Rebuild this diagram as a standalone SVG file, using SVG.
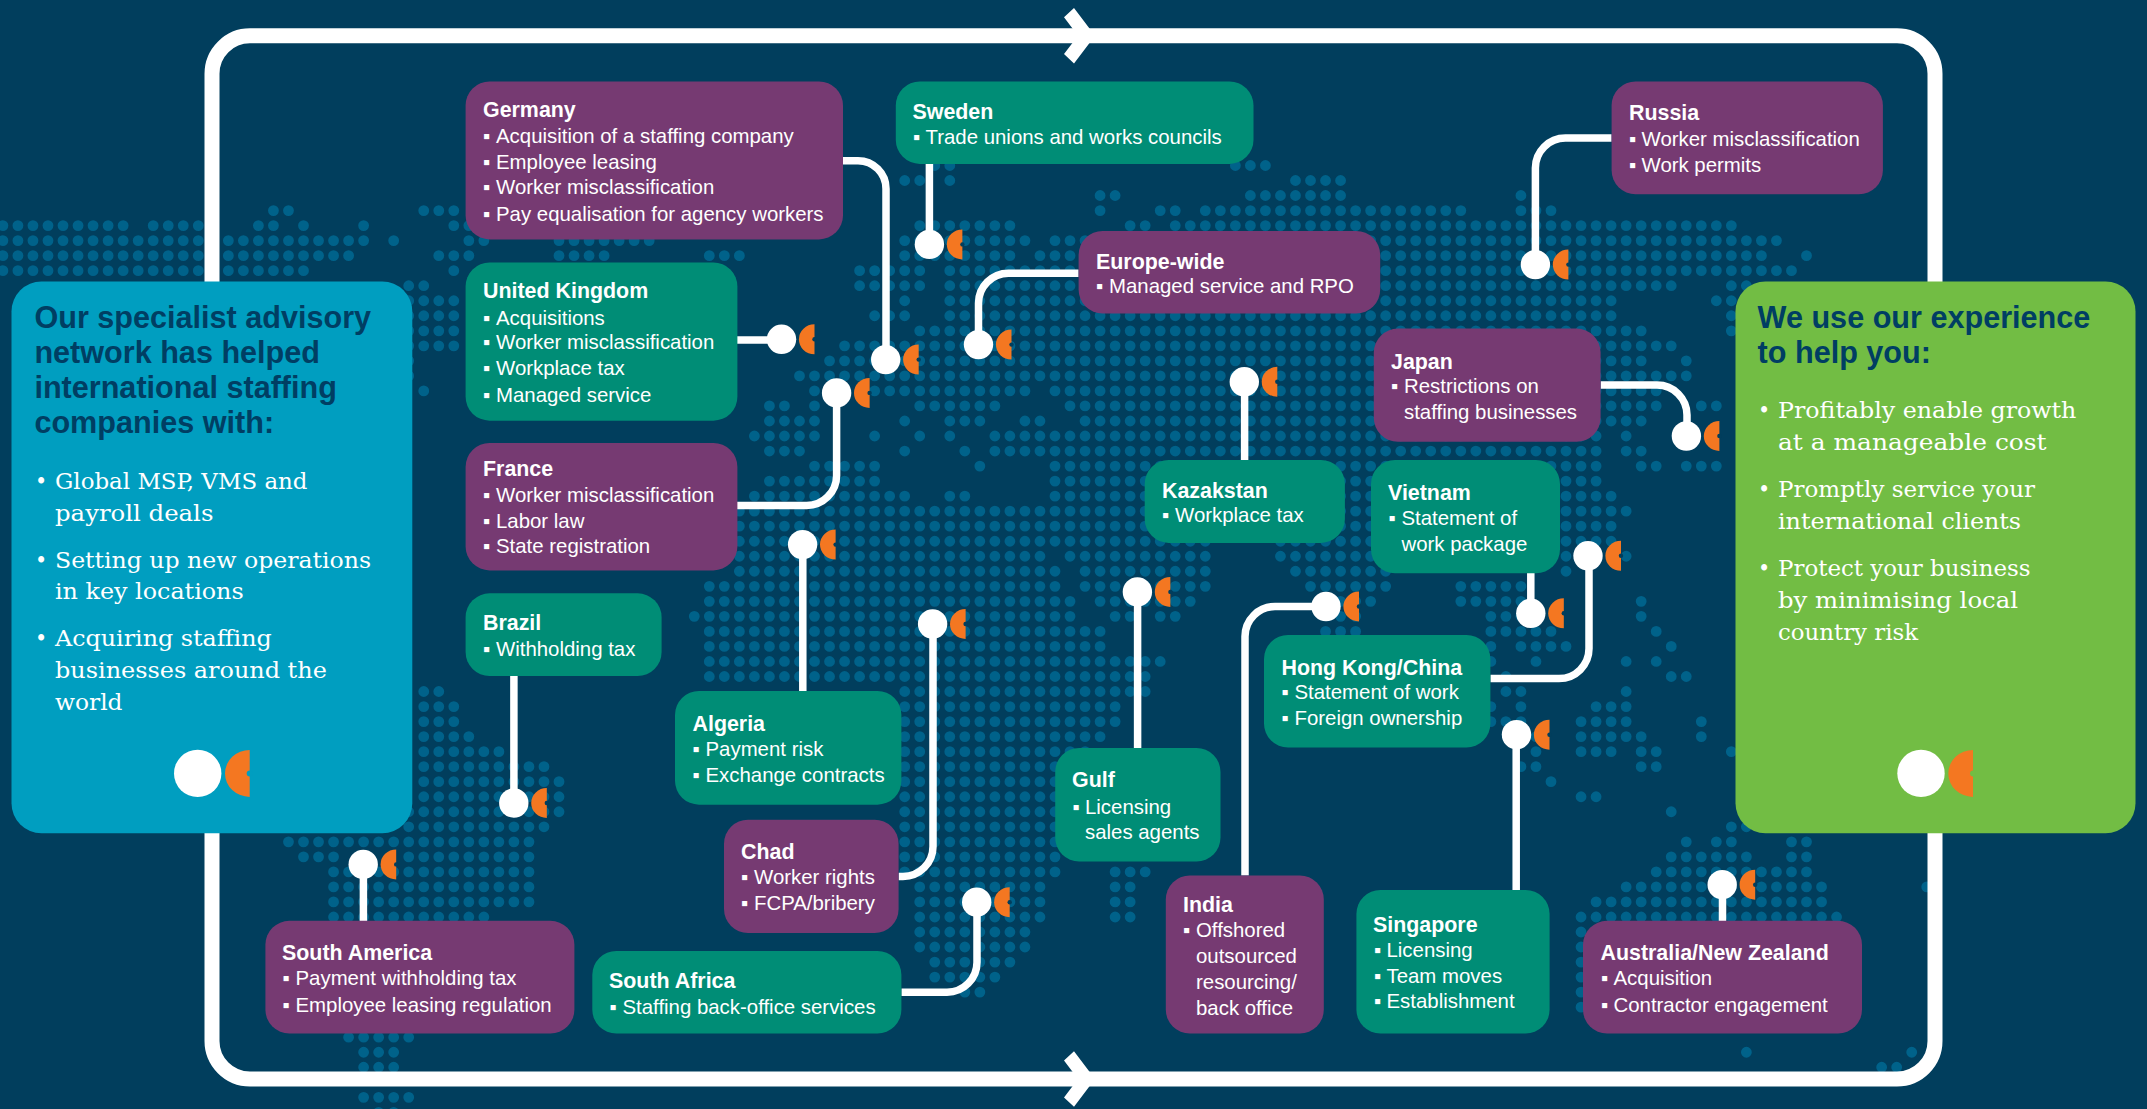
<svg xmlns="http://www.w3.org/2000/svg" width="2147" height="1109" viewBox="0 0 2147 1109">
<style>
.p{fill:#763a72}.g{fill:#008d76}
.t{font:bold 21.4px "Liberation Sans",Arial,sans-serif;fill:#fff;transform:translateY(.8px)}
.b{font:20.4px "Liberation Sans",Arial,sans-serif;fill:#fff;transform:translateY(.4px)}
.h{font:bold 30.6px "Liberation Sans",Arial,sans-serif;fill:#003e63}
.s{font:23px "DejaVu Serif Condensed","DejaVu Serif",serif;fill:#fff}
.c{fill:none;stroke:#fff;stroke-width:7.5}
</style>
<defs>
<g id="pin"><circle r="14.7" fill="#fff"/><path d="M33-15A15.6 15 0 0 0 33 15Z" fill="#f47721"/><circle cx="33" r="2.2" fill="#013e5d"/></g>
<path id="bigo" d="M52-23.5A24.7 23.5 0 0 0 52 23.5Z" fill="#f47721"/>
</defs>
<rect width="2147" height="1109" fill="#013e5d"/>
<g id="map" transform="translate(2.9 180.5) scale(15.03)" fill="none" stroke="#00628a" stroke-width=".72" stroke-linecap="round" stroke-dasharray="0 1">
<path d="M62 -1H63.01M82 -1H84.01M60 0H61.01M63 0h.01M86 0H89.01M73 1H74.01M83 1H89.01M101 1h.01M18 2H19.01M28 2H30.01M73 2h.01M77 2H78.01M80 2H97.01M101 2H103.01M0 3H8.01M10 3H14.01M17 3H18.01M20 3h.01M24 3h.01M30 3H31.01M61 3H67.01M75 3H76.01M78 3H115.01M0 4H24.01M26 4h.01M31 4H32.01M37 4H43.01M60 4H68.01M70 4H118.01M0 5H23.01M29 5H31.01M37 5H40.01M47 5H49.01M60 5H67.01M69 5H117.01M120 5h.01M0 6H20.01M30 6h.01M57 6H61.01M63 6H119.01M27 7H28.01M57 7H61.01M63 7H111.01M115 7H116.01M27 8H30.01M60 8h.01M63 8H107.01M114 8H115.01M27 9H30.01M58 9H60.01M63 9H107.01M115 9h.01M27 10H30.01M61 10H109.01M115 10h.01M27 11H30.01M56 11H111.01M27 12h.01M55 12H109.01M112 12h.01M27 13h.01M53 13H112.01M28 14h.01M54 14h.01M58 14H68.01M70 14H110.01M51 15H52.01M54 15h.01M61 15H66.01M71 15H110.01M113 15H114.01M51 16H54.01M60 16h.01M63 16H65.01M68 16H69.01M72 16H109.01M50 17H54.01M58 17h.01M61 17h.01M63 17h.01M66 17H106.01M108 17h.01M51 18H53.01M60 18h.01M64 18h.01M66 18H106.01M108 18H109.01M54 19H58.01M65 19h.01M70 19H106.01M109 19H110.01M112 19H114.01M51 20H58.01M70 20H106.01M50 21H60.01M63 21H64.01M70 21H107.01M49 22H108.01M49 23H107.01M49 24H80.01M85 24H107.01M49 25H69.01M71 25H80.01M85 25H91.01M104 25h.01M108 25h.01M49 26H70.01M72 26H80.01M86 26H92.01M104 26h.01M47 27H70.01M72 27H80.01M87 27H92.01M97 27H101.01M47 28H71.01M73 28H79.01M89 28H91.01M97 28H101.01M109 28h.01M46 29H71.01M74 29H75.01M77 29H78.01M89 29H90.01M99 29H101.01M109 29h.01M47 30H73.01M88 30H90.01M99 30H103.01M110 30h.01M47 31H73.01M99 31h.01M101 31H104.01M111 31h.01M47 32H77.01M99 32h.01M102 32h.01M108 32h.01M110 32h.01M47 33H76.01M100 33h.01M111 33H112.01M28 34H29.01M60 34H76.01M100 34H101.01M108 34h.01M28 35H30.01M60 35H74.01M99 35h.01M101 35h.01M106 35H108.01M28 36H30.01M60 36H74.01M99 36H101.01M105 36H108.01M113 36h.01M28 37H31.01M60 37H73.01M102 37h.01M105 37H109.01M113 37h.01M28 38H33.01M60 38H72.01M102 38h.01M105 38H107.01M109 38H110.01M115 38h.01M28 39H36.01M60 39H70.01M101 39H102.01M109 39H110.01M28 40H37.01M60 40H70.01M103 40h.01M28 41H37.01M60 41H70.01M105 41H106.01M27 42H37.01M60 42H70.01M111 42h.01M27 43H36.01M60 43H70.01M115 43H116.01M19 44H35.01M60 44H70.01M112 44h.01M114 44H115.01M119 44H120.01M20 45H22.01M27 45H35.01M60 45H70.01M111 45H116.01M119 45H120.01M22 46H35.01M60 46H70.01M74 46H76.01M110 46H120.01M22 47H35.01M61 47H69.01M74 47H75.01M108 47H121.01M128 47h.01M22 48H35.01M61 48H69.01M74 48H75.01M106 48H121.01M22 49H32.01M61 49H69.01M74 49H75.01M105 49H122.01M61 50H68.01M105 50h.01M61 51H68.01M105 51h.01M62 52H67.01M105 52h.01M62 53H66.01M105 53h.01M64 54H65.01M105 54h.01M105 55h.01M23 57H27.01M24 58H26.01M116 58h.01M127 58h.01M24 59H26.01M125 59H126.01M24 61H27.01M25 62H26.01"/>
</g>
<g id="frame">
<rect x="212" y="35.8" width="1723" height="1043.2" rx="38" fill="none" stroke="#fff" stroke-width="15"/>
<path d="M1074 8L1095 35.7L1074 63.4L1064 54.1L1078 35.7L1064 17.3Z" fill="#fff"/>
<path d="M1074 1051.3L1095 1079L1074 1106.7L1064 1097.4L1078 1079L1064 1060.6Z" fill="#fff"/>
</g>
<g id="connectors">
<path class="c" d="M843 160.7H858a28 28 0 0 1 28 28V359"/>
<path class="c" d="M929.4 164V244"/>
<path class="c" d="M737 340H781"/>
<path class="c" d="M737 505.4H806.6a30 30 0 0 0 30-30V393"/>
<path class="c" d="M1078.6 273.2H1008.5a30 30 0 0 0-30 30V344"/>
<path class="c" d="M1244.6 382V460"/>
<path class="c" d="M1611.6 138H1565.4a30 30 0 0 0-30 30V264"/>
<path class="c" d="M1600.6 385H1657a30 30 0 0 1 30 30V436"/>
<path class="c" d="M1530.8 573V613"/>
<path class="c" d="M1490.4 678.6H1559a30 30 0 0 0 30-30V556"/>
<path class="c" d="M802.8 545V691"/>
<path class="c" d="M898.6 876.5H903a30 30 0 0 0 30-30V624"/>
<path class="c" d="M1137.6 592V748"/>
<path class="c" d="M1245 875.4V636.5a30 30 0 0 1 30-30H1326"/>
<path class="c" d="M1516.2 735V890"/>
<path class="c" d="M513.9 676V803"/>
<path class="c" d="M363.4 864V921"/>
<path class="c" d="M901.4 992.2H947a30 30 0 0 0 30-30V902"/>
<path class="c" d="M1722.5 885V921"/>
<use href="#pin" x="885.7" y="359.6"/>
<use href="#pin" x="929.4" y="244.4"/>
<use href="#pin" x="781.5" y="339.3"/>
<use href="#pin" x="836.6" y="392.9"/>
<use href="#pin" x="978.5" y="344.6"/>
<use href="#pin" x="1244.3" y="381.8"/>
<use href="#pin" x="1535.4" y="264.6"/>
<use href="#pin" x="1686.4" y="436"/>
<use href="#pin" x="1530.8" y="613.3"/>
<use href="#pin" x="1588" y="555.8"/>
<use href="#pin" x="802.6" y="544.6"/>
<use href="#pin" x="932.6" y="624"/>
<use href="#pin" x="1137.4" y="591.9"/>
<use href="#pin" x="1326" y="606.5"/>
<use href="#pin" x="1516.5" y="734.7"/>
<use href="#pin" x="513.8" y="803"/>
<use href="#pin" x="363.2" y="864.4"/>
<use href="#pin" x="976.7" y="902.2"/>
<use href="#pin" x="1722.2" y="884.7"/>
</g>
<g id="germany"><rect class="p" x="465.6" y="81.4" width="377.4" height="158" rx="24"/><text class="t" x="483" y="116.4">Germany</text><text class="b" y="142.9"><tspan x="483">▪</tspan><tspan x="496">Acquisition of a staffing company</tspan></text><text class="b" y="168.6"><tspan x="483">▪</tspan><tspan x="496">Employee leasing</tspan></text><text class="b" y="194"><tspan x="483">▪</tspan><tspan x="496">Worker misclassification</tspan></text><text class="b" y="220.4"><tspan x="483">▪</tspan><tspan x="496">Pay equalisation for agency workers</tspan></text></g>
<g id="uk"><rect class="g" x="465.6" y="262.5" width="271.8" height="158.2" rx="24"/><text class="t" x="483" y="297.5">United Kingdom</text><text class="b" y="324.3"><tspan x="483">▪</tspan><tspan x="496">Acquisitions</tspan></text><text class="b" y="349"><tspan x="483">▪</tspan><tspan x="496">Worker misclassification</tspan></text><text class="b" y="375"><tspan x="483">▪</tspan><tspan x="496">Workplace tax</tspan></text><text class="b" y="401.4"><tspan x="483">▪</tspan><tspan x="496">Managed service</tspan></text></g>
<g id="france"><rect class="p" x="465.6" y="442.9" width="271.8" height="127.5" rx="24"/><text class="t" x="483" y="475.4">France</text><text class="b" y="502"><tspan x="483">▪</tspan><tspan x="496">Worker misclassification</tspan></text><text class="b" y="527.5"><tspan x="483">▪</tspan><tspan x="496">Labor law</tspan></text><text class="b" y="553"><tspan x="483">▪</tspan><tspan x="496">State registration</tspan></text></g>
<g id="brazil"><rect class="g" x="465.6" y="593.3" width="196" height="82.8" rx="24"/><text class="t" x="483" y="629.7">Brazil</text><text class="b" y="656"><tspan x="483">▪</tspan><tspan x="496">Withholding tax</tspan></text></g>
<g id="algeria"><rect class="g" x="675" y="691" width="226.4" height="113.7" rx="24"/><text class="t" x="692.5" y="730">Algeria</text><text class="b" y="756"><tspan x="692.5">▪</tspan><tspan x="705.5">Payment risk</tspan></text><text class="b" y="782"><tspan x="692.5">▪</tspan><tspan x="705.5">Exchange contracts</tspan></text></g>
<g id="chad"><rect class="p" x="724" y="819.7" width="174.6" height="113.3" rx="24"/><text class="t" x="741" y="858.6">Chad</text><text class="b" y="884"><tspan x="741">▪</tspan><tspan x="754">Worker rights</tspan></text><text class="b" y="910"><tspan x="741">▪</tspan><tspan x="754">FCPA/bribery</tspan></text></g>
<g id="south-africa"><rect class="g" x="592.3" y="951" width="309.1" height="82.6" rx="24"/><text class="t" x="609" y="987.6">South Africa</text><text class="b" y="1013.3"><tspan x="609.5">▪</tspan><tspan x="622.5">Staffing back-office services</tspan></text></g>
<g id="south-america"><rect class="p" x="265.4" y="920.8" width="309" height="112.8" rx="24"/><text class="t" x="282" y="959.7">South America</text><text class="b" y="985"><tspan x="282.5">▪</tspan><tspan x="295.5">Payment withholding tax</tspan></text><text class="b" y="1011.5"><tspan x="282.5">▪</tspan><tspan x="295.5">Employee leasing regulation</tspan></text></g>
<g id="sweden"><rect class="g" x="895.8" y="81.4" width="357.7" height="82.5" rx="24"/><text class="t" x="912.5" y="117.9">Sweden</text><text class="b" y="143.9"><tspan x="913">▪</tspan><tspan x="925.5">Trade unions and works councils</tspan></text></g>
<g id="europe-wide"><rect class="p" x="1078.6" y="231" width="301.6" height="82.6" rx="24"/><text class="t" x="1096" y="267.9">Europe-wide</text><text class="b" y="292.9"><tspan x="1096">▪</tspan><tspan x="1109">Managed service and RPO</tspan></text></g>
<g id="kazakstan"><rect class="g" x="1144.7" y="460" width="200.2" height="82.9" rx="24"/><text class="t" x="1162" y="496.8">Kazakstan</text><text class="b" y="522"><tspan x="1162">▪</tspan><tspan x="1175">Workplace tax</tspan></text></g>
<g id="japan"><rect class="p" x="1373.8" y="328.6" width="226.8" height="113.2" rx="24"/><text class="t" x="1391" y="367.9">Japan</text><text class="b" y="392.9"><tspan x="1391">▪</tspan><tspan x="1404">Restrictions on</tspan></text><text class="b" y="418.6" x="1404">staffing businesses</text></g>
<g id="vietnam"><rect class="g" x="1371" y="460" width="189" height="113.3" rx="24"/><text class="t" x="1388" y="499">Vietnam</text><text class="b" y="525"><tspan x="1388.5">▪</tspan><tspan x="1401.5">Statement of</tspan></text><text class="b" y="550.7" x="1401.5">work package</text></g>
<g id="russia"><rect class="p" x="1611.6" y="81.4" width="271.3" height="112.9" rx="24"/><text class="t" x="1629" y="119.6">Russia</text><text class="b" y="145.7"><tspan x="1629">▪</tspan><tspan x="1641.5">Worker misclassification</tspan></text><text class="b" y="171.4"><tspan x="1629">▪</tspan><tspan x="1641.5">Work permits</tspan></text></g>
<g id="hong-kong"><rect class="g" x="1264" y="635" width="226.4" height="112.6" rx="24"/><text class="t" x="1281.5" y="674">Hong Kong/China</text><text class="b" y="699"><tspan x="1281.5">▪</tspan><tspan x="1294.5">Statement of work</tspan></text><text class="b" y="725"><tspan x="1281.5">▪</tspan><tspan x="1294.5">Foreign ownership</tspan></text></g>
<g id="gulf"><rect class="g" x="1055.2" y="748" width="165.3" height="113.5" rx="24"/><text class="t" x="1072" y="786.5">Gulf</text><text class="b" y="813.3"><tspan x="1072.5">▪</tspan><tspan x="1085">Licensing</tspan></text><text class="b" y="838.3" x="1085">sales agents</text></g>
<g id="india"><rect class="p" x="1165.8" y="875.4" width="158" height="158.2" rx="24"/><text class="t" x="1183" y="910.8">India</text><text class="b" y="936.9"><tspan x="1183">▪</tspan><tspan x="1196">Offshored</tspan></text><text class="b" y="963" x="1196">outsourced</text><text class="b" y="988.3" x="1196">resourcing/</text><text class="b" y="1014.4" x="1196">back office</text></g>
<g id="singapore"><rect class="g" x="1356.4" y="890" width="193.2" height="143.6" rx="24"/><text class="t" x="1373" y="930.8">Singapore</text><text class="b" y="956.9"><tspan x="1374">▪</tspan><tspan x="1386.5">Licensing</tspan></text><text class="b" y="983"><tspan x="1374">▪</tspan><tspan x="1386.5">Team moves</tspan></text><text class="b" y="1008"><tspan x="1374">▪</tspan><tspan x="1386.5">Establishment</tspan></text></g>
<g id="australia"><rect class="p" x="1583" y="920.8" width="279" height="112.8" rx="24"/><text class="t" x="1600.5" y="959.7">Australia/New Zealand</text><text class="b" y="985"><tspan x="1601">▪</tspan><tspan x="1613.5">Acquisition</tspan></text><text class="b" y="1011.5"><tspan x="1601">▪</tspan><tspan x="1613.5">Contractor engagement</tspan></text></g>
<g id="panel-left"><rect x="11.5" y="281.4" width="400.8" height="551.9" rx="30" fill="#009ec0"/>
<text class="h" x="34.4" y="327.5">Our specialist advisory</text><text class="h" x="34.4" y="362.5">network has helped</text><text class="h" x="34.4" y="398">international staffing</text><text class="h" x="34.4" y="432.9">companies with:</text>
<text class="s"><tspan x="35" y="488.6">•</tspan><tspan x="55" y="488.6" textLength="252.5" lengthAdjust="spacingAndGlyphs">Global MSP, VMS and</tspan></text><text class="s" x="55" y="520.7" textLength="158.4" lengthAdjust="spacingAndGlyphs">payroll deals</text>
<text class="s"><tspan x="35" y="567.6">•</tspan><tspan x="55" y="567.6" textLength="316" lengthAdjust="spacingAndGlyphs">Setting up new operations</tspan></text><text class="s" x="55" y="599" textLength="188.7" lengthAdjust="spacingAndGlyphs">in key locations</text>
<text class="s"><tspan x="35" y="646">•</tspan><tspan x="55" y="646" textLength="216.7" lengthAdjust="spacingAndGlyphs">Acquiring staffing</tspan></text><text class="s" x="55" y="678.3" textLength="271.8" lengthAdjust="spacingAndGlyphs">businesses around the</text><text class="s" x="55" y="710.4" textLength="67.5" lengthAdjust="spacingAndGlyphs">world</text>
<circle cx="197.7" cy="773.4" r="23.7" fill="#fff"/><use href="#bigo" x="197.7" y="773.4"/><circle cx="249.7" cy="773.4" r="3" fill="#009ec0"/></g>
<g id="panel-right"><rect x="1735.5" y="281.4" width="400" height="551.9" rx="30" fill="#72bd44"/>
<text class="h" x="1757.6" y="327.5">We use our experience</text><text class="h" x="1757.6" y="362.5">to help you:</text>
<text class="s"><tspan x="1758" y="417.9">•</tspan><tspan x="1778" y="417.9" textLength="298.4" lengthAdjust="spacingAndGlyphs">Profitably enable growth</tspan></text><text class="s" x="1778" y="450" textLength="268.6" lengthAdjust="spacingAndGlyphs">at a manageable cost</text>
<text class="s"><tspan x="1758" y="497">•</tspan><tspan x="1778" y="497" textLength="257" lengthAdjust="spacingAndGlyphs">Promptly service your</tspan></text><text class="s" x="1778" y="528.6" textLength="243" lengthAdjust="spacingAndGlyphs">international clients</text>
<text class="s"><tspan x="1758" y="575.8">•</tspan><tspan x="1778" y="575.8" textLength="252.5" lengthAdjust="spacingAndGlyphs">Protect your business</tspan></text><text class="s" x="1778" y="608" textLength="240" lengthAdjust="spacingAndGlyphs">by minimising local</text><text class="s" x="1778" y="640" textLength="140" lengthAdjust="spacingAndGlyphs">country risk</text>
<circle cx="1921" cy="773.4" r="23.7" fill="#fff"/><use href="#bigo" x="1921" y="773.4"/><circle cx="1973" cy="773.4" r="3" fill="#72bd44"/></g>
</svg>
